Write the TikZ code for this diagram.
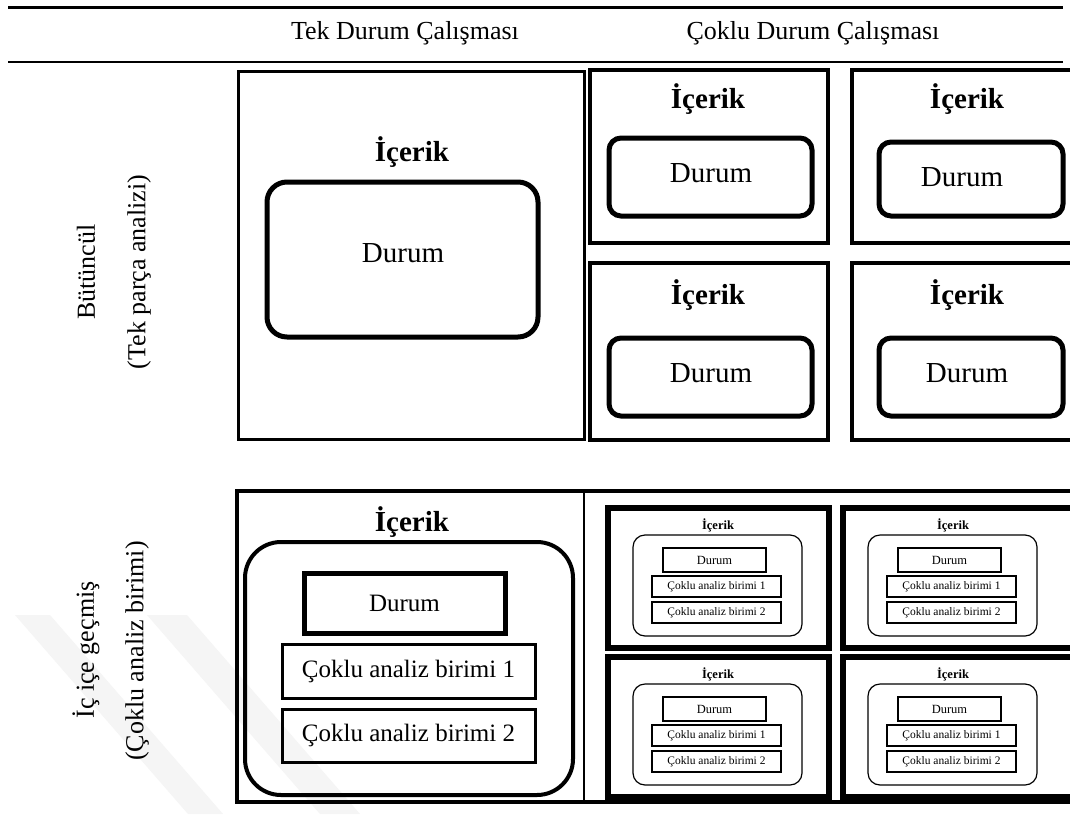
\documentclass[tikz,border=0pt]{standalone}
\usepackage{fontspec}
\setmainfont{Liberation Serif}

% nested case: outer frame, context label, rounded context, case and two units
\newcommand{\nestedcase}[4]{%
  \node[nestframe, minimum width=#4pt] (#1) at (#2,#3) {};
  \node[nesttitle] (#1-t) at ({#2+110},{#3+17}) {İçerik};
  \node[nestround] (#1-r) at ({#2+25},{#3+27}) {};
  \node[nestcase] (#1-d) at ({#2+55},{#3+40}) {Durum};
  \node[nestunit] (#1-u1) at ({#2+44},{#3+68}) {Çoklu analiz birimi 1};
  \node[nestunit] (#1-u2) at ({#2+44},{#3+94}) {Çoklu analiz birimi 2};
}

\begin{document}
\begin{tikzpicture}[x=1pt,y=-1pt,
  every node/.style={inner sep=0pt, outer sep=0pt},
  headtext/.style={font=\fontsize{26}{30}\selectfont},
  sidetext/.style={font=\fontsize{26}{30}\selectfont, rotate=90},
  bigtitle/.style={font=\fontsize{29}{33}\selectfont\bfseries},
  bigtext/.style={font=\fontsize{29}{33}\selectfont},
  unittext/.style={font=\fontsize{25}{29}\selectfont},
  rulebar/.style={line width=#1},
  frame/.style={draw, rectangle, line width=#1, anchor=north west},
  roundframe/.style={draw, rectangle, rounded corners=#1, anchor=north west},
  nestframe/.style={frame=6pt, minimum height=140pt},
  nesttitle/.style={font=\fontsize{12.5}{14}\selectfont\bfseries},
  nestround/.style={roundframe=12pt, line width=1.2pt, minimum width=169pt, minimum height=101pt},
  nestcase/.style={frame=2.2pt, minimum width=103pt, minimum height=24pt, font=\fontsize{12.5}{14}\selectfont},
  nestunit/.style={frame=1.6pt, minimum width=129pt, minimum height=21pt, font=\fontsize{11.5}{13}\selectfont},
  wmark/.style={fill=gray!8},
]
\clip (0,0) rectangle (1070,814);
\fill[white] (0,0) rectangle (1070,814);

% faint watermark bands
\fill[wmark] (15,615) -- (50,615) -- (223,814) -- (188,814) -- cycle;
\fill[wmark] (147,615) -- (187,615) -- (360,814) -- (320,814) -- cycle;

% header rules and column titles
\coordinate (r1a) at (8,7);   \coordinate (r1b) at (1063,7);
\coordinate (r2a) at (8,62);  \coordinate (r2b) at (1063,62);
\draw[rulebar=3pt] (r1a) -- (r1b);
\draw[rulebar=2.5pt] (r2a) -- (r2b);
\node[headtext] (hsingle) at (405,33) {Tek Durum Çalışması};
\node[headtext] (hmulti) at (813,33) {Çoklu Durum Çalışması};

% row titles
\node[sidetext] (holA) at (86,272) {Bütüncül};
\node[sidetext] (holB) at (139,272) {(Tek parça analizi)};
\node[sidetext] (embA) at (86,650) {İç içe geçmiş};
\node[sidetext] (embB) at (137,651) {(Çoklu analiz birimi)};

% holistic, single case
\node[frame=3pt, minimum width=346pt, minimum height=368pt] (hs) at (238,71) {};
\node[bigtitle] (hs-t) at (412,152) {İçerik};
\node[roundframe=20pt, line width=5pt, minimum width=271pt, minimum height=155pt] (hs-r) at (267,182) {};
\node[bigtext] (hs-d) at (403,253) {Durum};

% holistic, multiple cases
\node[frame=4.5pt, minimum width=238pt, minimum height=173pt] (hm1) at (590,70) {};
\node[frame=4.5pt, minimum width=224pt, minimum height=173pt] (hm2) at (852,70) {};
\node[frame=4.5pt, minimum width=238pt, minimum height=177pt] (hm3) at (590,263) {};
\node[frame=4.5pt, minimum width=224pt, minimum height=177pt] (hm4) at (852,263) {};
\node[bigtitle] (hm1-t) at (708,99) {İçerik};
\node[bigtitle] (hm2-t) at (967,99) {İçerik};
\node[bigtitle] (hm3-t) at (708,295) {İçerik};
\node[bigtitle] (hm4-t) at (967,295) {İçerik};
\node[roundframe=12pt, line width=5pt, minimum width=203pt, minimum height=78pt] (hm1-r) at (609,138) {};
\node[roundframe=12pt, line width=5pt, minimum width=184pt, minimum height=74pt] (hm2-r) at (879,142) {};
\node[roundframe=12pt, line width=5pt, minimum width=203pt, minimum height=78pt] (hm3-r) at (609,338) {};
\node[roundframe=12pt, line width=5pt, minimum width=184pt, minimum height=78pt] (hm4-r) at (879,338) {};
\node[bigtext] (hm1-d) at (711,173) {Durum};
\node[bigtext] (hm2-d) at (962,177) {Durum};
\node[bigtext] (hm3-d) at (711,373) {Durum};
\node[bigtext] (hm4-d) at (967,373) {Durum};

% embedded row: outer frame and divider
\node[frame=3.5pt, minimum width=850pt, minimum height=311pt] (em) at (237,491) {};
\coordinate (divtop) at (584,491);
\coordinate (divbot) at (584,802);
\draw[line width=2.5pt] (divtop) -- (divbot);

% embedded, single case
\node[bigtitle] (es-t) at (412,522) {İçerik};
\node[roundframe=36pt, line width=4pt, minimum width=328pt, minimum height=253pt] (es-r) at (245,542) {};
\node[frame=5pt, minimum width=201pt, minimum height=60pt, unittext] (es-d) at (304,573) {Durum};
\node[frame=3pt, minimum width=253pt, minimum height=54pt, unittext] (es-u1) at (282,644) {Çoklu analiz birimi 1};
\node[frame=3pt, minimum width=253pt, minimum height=53pt, unittext] (es-u2) at (282,709) {Çoklu analiz birimi 2};

% embedded, multiple cases
\nestedcase{em1}{608}{508}{221}
\nestedcase{em2}{843}{508}{240}
\nestedcase{em3}{608}{657}{221}
\nestedcase{em4}{843}{657}{240}
\end{tikzpicture}
\end{document}
